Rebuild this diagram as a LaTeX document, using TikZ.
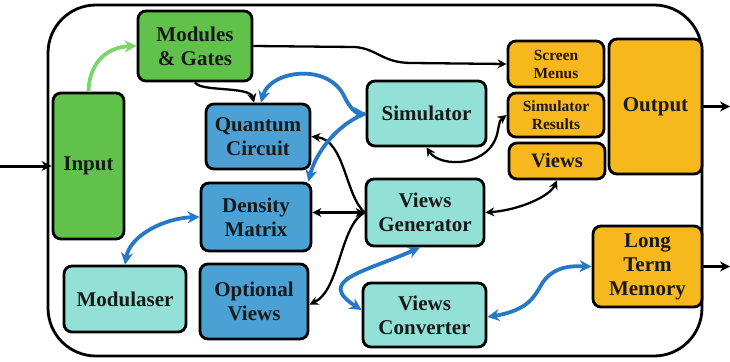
\documentclass[tikz,border=0pt]{standalone}
\usepackage{fontspec}
\setmainfont{Liberation Serif}
\usetikzlibrary{arrows.meta}
\definecolor{gfill}{HTML}{60C24A}
\definecolor{bfill}{HTML}{4CA1D4}
\definecolor{tfill}{HTML}{93E0D6}
\definecolor{ofill}{HTML}{F7B81E}
\definecolor{barrow}{HTML}{2878C8}
\definecolor{garrow}{HTML}{7AD666}
\begin{document}
\begin{tikzpicture}[x=1pt,y=-1pt,
  box/.style={draw=black, line width=2.8pt, rounded corners=8pt, align=center,
    font=\fontsize{21}{24}\selectfont\bfseries, inner sep=1pt, text=black!90},
  smallbox/.style={box, font=\fontsize{15.5}{18}\selectfont\bfseries},
  blk/.style={draw=black, line width=2.3pt, >={Stealth[length=9pt,width=9pt]}},
  ext/.style={draw=black, line width=3pt, >={Stealth[length=10pt,width=10pt]}},
  blu/.style={draw=barrow, line width=3.8pt, >={Stealth[length=12pt,width=12pt]}},
  grn/.style={draw=garrow, line width=3.8pt, >={Stealth[length=12pt,width=12pt]}}]
\useasboundingbox (0,0) rectangle (730,361);

% system frame
\draw[line width=2.8pt, rounded corners=48pt] (48,5) rectangle (702,356);

% blocks
\node[box, fill=gfill, minimum width=71, minimum height=146] (inp) at (88.5,166) {Input};
\node[box, fill=gfill, minimum width=114, minimum height=70] (mg) at (195,46) {Modules\\\& Gates};
\node[box, fill=bfill, minimum width=104, minimum height=65] (qc) at (258,136.5) {Quantum\\Circuit};
\node[box, fill=bfill, minimum width=110, minimum height=68] (dm) at (256,217) {Density\\Matrix};
\node[box, fill=bfill, minimum width=108, minimum height=75] (ov) at (254,301.5) {Optional\\Views};
\node[box, fill=tfill, minimum width=122, minimum height=66] (mod) at (125,299) {Modulaser};
\node[box, fill=tfill, minimum width=119, minimum height=65] (sim) at (426.5,113.5) {Simulator};
\node[box, fill=tfill, minimum width=118, minimum height=67] (vg) at (425,212.5) {Views\\Generator};
\node[box, fill=tfill, minimum width=123, minimum height=64] (vc) at (424.5,315) {Views\\Converter};
\node[smallbox, fill=ofill, minimum width=96, minimum height=46] (sm) at (556,64) {Screen\\Menus};
\node[smallbox, fill=ofill, minimum width=96, minimum height=44] (sr) at (556,115) {Simulator\\Results};
\node[box, fill=ofill, minimum width=96, minimum height=36, font=\fontsize{20.5}{23}\selectfont\bfseries] (vw) at (557,161) {Views};
\node[box, fill=ofill, minimum width=93, minimum height=135] (out) at (655.5,106.5) {Output};
\node[box, fill=ofill, minimum width=109, minimum height=81] (ltm) at (647.5,266.5) {Long\\Term\\Memory};

% external inputs and outputs
\coordinate (inL) at (0,166);
\coordinate (outR) at (730,106.5);
\coordinate (ltmR) at (730,266.5);
\draw[ext,->] (inL) -- (inp.west);
\draw[ext,->] (out.east) -- (outR);
\draw[ext,->] (ltm.east) -- (ltmR);

% green link
\draw[grn,->] (inp.north) .. controls (89,65) and (105,47) .. (mg.west);

% black links
\draw[blk,->] (mg.east) -- (355,47) .. controls (378,49) and (382,63) .. (412,63) -- (sm.west);
\draw[blk,->] (mg.south) .. controls (200,92) and (250,86) .. ([xshift=-4pt]qc.north);
\draw[blk,<->] (sim.south) .. controls (440,168) and (492,168) .. (498,130) .. controls (500,120) .. (sr.west);
\draw[blk,<->] (vg.west) -- (vg.west -| dm.east);
\draw[blk,->] (vg.west) .. controls (345,195) and (345,140) .. (qc.east);
\draw[blk,->] (vg.west) .. controls (340,225) and (340,290) .. ([yshift=-3pt]ov.east);
\draw[blk,<->] (vg.east) .. controls (520,210) and (550,196) .. (vw.south);

% blue links
\draw[blu,<->] ([xshift=3pt]qc.north) .. controls (270,70) and (330,62) .. (345,98) .. controls (350,108) and (356,113) .. (sim.west);
\draw[blu,->] (sim.west) .. controls (335,125) and (315,155) .. ([xshift=-4pt]dm.north east);
\draw[blu,<->] (dm.west) .. controls (165,218) and (130,235) .. (mod.north);
\draw[blu,<->] ([xshift=-5pt]vg.south) .. controls (365,272) and (315,280) .. ([yshift=5pt]vc.west);
\draw[blu,<->] ([yshift=-2pt]vc.east) .. controls (530,310) and (535,295) .. (543,282) .. controls (555,265) and (575,266) .. (ltm.west);
\end{tikzpicture}
\end{document}
